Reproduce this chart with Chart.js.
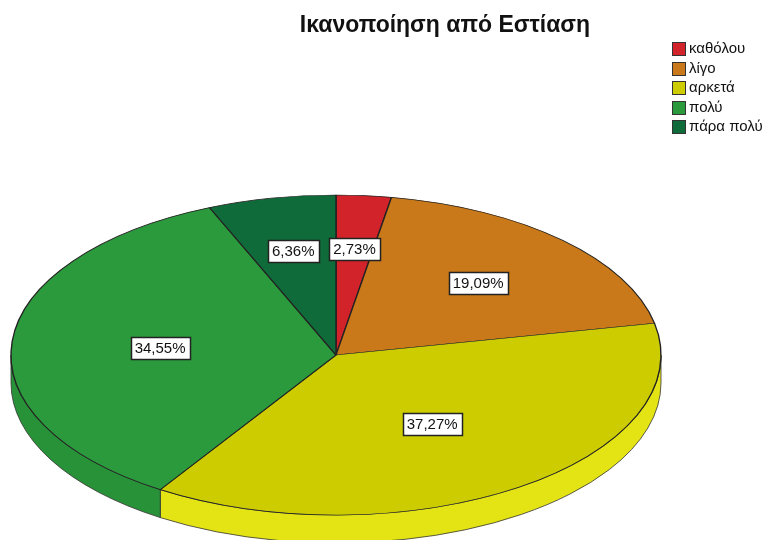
<!DOCTYPE html>
<html lang="el">
<head>
<meta charset="utf-8">
<title>Ικανοποίηση από Εστίαση</title>
<script src="https://cdn.jsdelivr.net/npm/chart.js@4.4.1/dist/chart.umd.min.js"></script>
<style>
  html, body { margin: 0; padding: 0; background: #fff; overflow: hidden; }
  #wrap { position: relative; width: 772px; height: 540px; }
</style>
</head>
<body>
<div id="wrap"><canvas id="pieChart" width="772" height="540"></canvas></div>
<script>
const chartTitle = 'Ικανοποίηση από Εστίαση';
const categories = ['καθόλου', 'λίγο', 'αρκετά', 'πολύ', 'πάρα πολύ'];
const percentages = [2.73, 19.09, 37.27, 34.55, 6.36];

const sliceColors = ['#d2232a', '#c9791a', '#cccc00', '#2b9a3c', '#0f6b3a'];
const wallColors = ['#b81e24', '#b56c16', '#e4e414', '#289238', '#0d5f33'];

const TILT = 160 / 325;   // vertical squash of the pie top
const DEPTH = 28;         // thickness of the side wall
const FONT = '"Liberation Sans", Arial, sans-serif';

const fmt = v => v.toFixed(2).replace('.', ',') + '%';

const tiltPlugin = {
    id: 'tilt',
    beforeDatasetsDraw(chart) {
        const ctx = chart.ctx;
        const arcs = chart.getDatasetMeta(0).data;
        const { x, y, outerRadius } = arcs[0];
        const ry = outerRadius * TILT;

        // side wall: only the front half (canvas angles 0..PI) is visible
        arcs.forEach((arc, i) => {
            const s = Math.max(arc.startAngle, 0);
            const e = Math.min(arc.endAngle, Math.PI);
            if (e <= s) return;
            ctx.beginPath();
            ctx.ellipse(x, y, outerRadius, ry, 0, s, e);
            ctx.ellipse(x, y + DEPTH, outerRadius, ry, 0, e, s, true);
            ctx.closePath();
            ctx.fillStyle = wallColors[i];
            ctx.fill();
            ctx.lineWidth = 0.8;
            ctx.strokeStyle = '#333';
            ctx.stroke();
        });

        // squash the pie top into an ellipse
        ctx.save();
        ctx.translate(x, y);
        ctx.scale(1, TILT);
        ctx.translate(-x, -y);
    },
    afterDatasetsDraw(chart) {
        const ctx = chart.ctx;
        ctx.restore();

        // percentage boxes at each slice's centroid
        const arcs = chart.getDatasetMeta(0).data;
        ctx.save();
        ctx.font = '15px ' + FONT;
        ctx.textAlign = 'center';
        ctx.textBaseline = 'middle';
        arcs.forEach((arc, i) => {
            const theta = arc.endAngle - arc.startAngle;
            const mid = (arc.startAngle + arc.endAngle) / 2;
            const d = (4 / 3) * arc.outerRadius * Math.sin(theta / 2) / theta;
            const lx = arc.x + d * Math.cos(mid);
            const ly = arc.y + d * Math.sin(mid) * TILT;
            const text = fmt(percentages[i]);
            const w = Math.round(ctx.measureText(text).width + 8);
            const h = 22;
            const bx = Math.round(lx - w / 2) + 0.5;
            const by = Math.round(ly - h / 2) + 0.5;
            ctx.fillStyle = '#fff';
            ctx.fillRect(bx, by, w, h);
            ctx.lineWidth = 1.5;
            ctx.strokeStyle = '#222';
            ctx.strokeRect(bx, by, w, h);
            ctx.fillStyle = '#111';
            ctx.fillText(text, lx, ly + 1);
        });
        ctx.restore();
    },
    afterDraw(chart) {
        const ctx = chart.ctx;
        ctx.save();
        // title
        ctx.font = 'bold 23px ' + FONT;
        ctx.fillStyle = '#111';
        ctx.textAlign = 'center';
        ctx.textBaseline = 'alphabetic';
        ctx.fillText(chartTitle, 445, 32);

        // legend
        ctx.font = '15px ' + FONT;
        ctx.textAlign = 'left';
        ctx.textBaseline = 'middle';
        categories.forEach((name, i) => {
            const top = 42 + i * 19.5;
            ctx.fillStyle = sliceColors[i];
            ctx.fillRect(672.5, Math.round(top) + 0.5, 13, 13);
            ctx.lineWidth = 1;
            ctx.strokeStyle = '#333';
            ctx.strokeRect(672.5, Math.round(top) + 0.5, 13, 13);
            ctx.fillStyle = '#111';
            ctx.fillText(name, 689, top + 7);
        });
        ctx.restore();
    }
};

new Chart(document.getElementById('pieChart'), {
    type: 'pie',
    data: {
        labels: categories,
        datasets: [{
            data: percentages,
            backgroundColor: sliceColors,
            borderColor: '#222',
            borderWidth: 1.4,
            clip: false
        }]
    },
    options: {
        responsive: false,
        animation: false,
        events: [],
        radius: 325,
        layout: { padding: { left: 0, right: 100, top: 170, bottom: 0 } },
        plugins: {
            legend: { display: false },
            title: { display: false },
            tooltip: { enabled: false }
        }
    },
    plugins: [tiltPlugin]
});
</script>
</body>
</html>
